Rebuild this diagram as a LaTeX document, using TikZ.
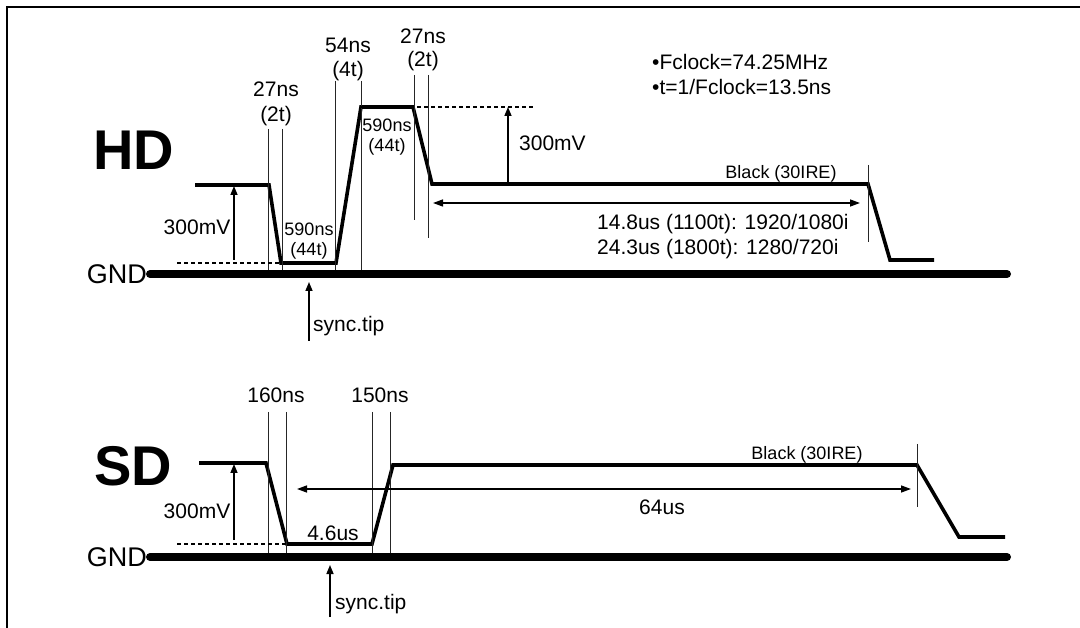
\documentclass[tikz,border=0pt]{standalone}
\usepackage{fontspec}
\setmainfont{Liberation Sans}
\usetikzlibrary{arrows.meta}
\begin{document}
\begin{tikzpicture}[x=1pt,y=-1pt,
  wave/.style={line width=3.6pt, line join=miter},
  gnd/.style={line width=8pt, line cap=round},
  guide/.style={line width=0.9pt, black!85},
  ref/.style={line width=1.3pt, dash pattern=on 4pt off 3pt},
  meas/.style={line width=1.5pt, -{Triangle[length=9pt,width=7pt]}},
  dim/.style={line width=1.3pt, {Triangle[length=10pt,width=7pt]}-{Triangle[length=10pt,width=7pt]}},
  lbl/.style={font=\fontsize{21}{24}\selectfont, inner sep=0pt},
  sml/.style={font=\fontsize{18}{21}\selectfont, inner sep=0pt},
  big/.style={font=\fontsize{56}{56}\selectfont\bfseries, inner sep=0pt},
  gndl/.style={font=\fontsize{27}{30}\selectfont, inner sep=0pt},
]
\useasboundingbox (0,0) rectangle (1080,628);
% frame
\draw[line width=2pt] (7,628) -- (7,7) -- (1082,7);

% ================= HD =================
\node[big] (hd) at (134,150) {HD};
\node[gndl, anchor=east] (gndhd) at (147,274) {GND};
\coordinate (gndhdend) at (1007,274);
\draw[gnd] (gndhd.east) ++(3,0) -- (gndhdend);

% waveform points
\coordinate (h0) at (195,185);
\coordinate (h1) at (269,185);
\coordinate (h2) at (281,263);
\coordinate (h3) at (336,263);
\coordinate (h4) at (361,107);
\coordinate (h5) at (413,107);
\coordinate (h6) at (432,184);
\coordinate (h7) at (868,184);
\coordinate (h8) at (890,260);
\coordinate (h9) at (934,260);
\draw[wave] (h0) -- (h1) -- (h2) -- (h3) -- (h4) -- (h5) -- (h6) -- (h7) -- (h8) -- (h9);

% guides
\coordinate (hg1t) at (268.5,129); \coordinate (hg1b) at (268.5,270);
\coordinate (hg2t) at (282,129);   \coordinate (hg2b) at (282,270);
\coordinate (hg3t) at (335,81);    \coordinate (hg3b) at (335,270);
\coordinate (hg4t) at (361,81);    \coordinate (hg4b) at (361,270);
\coordinate (hg5t) at (414,75);    \coordinate (hg5b) at (414,220);
\coordinate (hg6t) at (428,75);    \coordinate (hg6b) at (428,238);
\coordinate (hg7t) at (868,165);   \coordinate (hg7b) at (868,242);
\foreach \i in {1,...,7} \draw[guide] (hg\i t) -- (hg\i b);

% dashed references
\coordinate (hdl0) at (177,263);
\draw[ref] (hdl0) -- (h2);
\coordinate (hdh1) at (533,107);
\draw[ref] (h4) -- (hdh1);

% 300mV arrows
\coordinate (ha1b) at (234,260); \coordinate (ha1t) at (234,186);
\draw[meas] (ha1b) -- (ha1t);
\coordinate (ha2b) at (508,184); \coordinate (ha2t) at (508,107);
\draw[meas] (ha2b) -- (ha2t);
\node[lbl] (hmv1) at (197,227) {300mV};
\node[lbl, anchor=west] (hmv2) at (519,143) {300mV};

% 14.8us dimension
\coordinate (hdimL) at (433,203); \coordinate (hdimR) at (860,203);
\draw[dim] (hdimL) -- (hdimR);
\node[lbl, anchor=west] (hline1) at (597,224) {14.8us (1100t): 1920/1080i};
\node[lbl, anchor=west] (hline2) at (597,249) {24.3us (1800t): 1280/720i};

% timing labels
\node[lbl] (h27a) at (276,89) {27ns};
\node[lbl] (h2ta) at (276,116) {(2t)};
\node[lbl] (h54) at (348,45) {54ns};
\node[lbl] (h4t) at (348,71) {(4t)};
\node[lbl] (h27b) at (423,36) {27ns};
\node[lbl] (h2tb) at (423,61) {(2t)};
\node[sml] (h590a) at (387,125) {590ns};
\node[sml] (h44a) at (387,147) {(44t)};
\node[sml] (h590b) at (309,229) {590ns};
\node[sml] (h44b) at (309,251) {(44t)};
\node[sml] (hblack) at (781,174) {Black (30IRE)};

% clock notes
\node[lbl, anchor=west] (fclk) at (652,62) {•Fclock=74.25MHz};
\node[lbl, anchor=west] (tclk) at (652,87) {•t=1/Fclock=13.5ns};

% sync tip
\coordinate (hsb) at (309,341); \coordinate (hst) at (309,282);
\draw[meas] (hsb) -- (hst);
\node[lbl, anchor=west] (hsync) at (313,326) {sync.tip};

% ================= SD =================
\node[big] (sd) at (133,466) {SD};
\node[gndl, anchor=east] (gndsd) at (147,557) {GND};
\coordinate (gndsdend) at (1007,557);
\draw[gnd] (gndsd.east) ++(3,0) -- (gndsdend);

\coordinate (s0) at (199,463);
\coordinate (s1) at (266,463);
\coordinate (s2) at (287,544);
\coordinate (s3) at (372,544);
\coordinate (s4) at (393,465);
\coordinate (s5) at (917,465);
\coordinate (s6) at (959,537);
\coordinate (s7) at (1005,537);
\draw[wave] (s0) -- (s1) -- (s2) -- (s3) -- (s4) -- (s5) -- (s6) -- (s7);

\coordinate (sg1t) at (268,412); \coordinate (sg1b) at (268,553);
\coordinate (sg2t) at (286,412); \coordinate (sg2b) at (286,553);
\coordinate (sg3t) at (372,412); \coordinate (sg3b) at (372,553);
\coordinate (sg4t) at (390,412); \coordinate (sg4b) at (390,553);
\coordinate (sg5t) at (917,444); \coordinate (sg5b) at (917,507);
\foreach \i in {1,...,5} \draw[guide] (sg\i t) -- (sg\i b);

\coordinate (sdl0) at (177,544);
\draw[ref] (sdl0) -- (s2);

\coordinate (sa1b) at (234,540); \coordinate (sa1t) at (234,464);
\draw[meas] (sa1b) -- (sa1t);
\node[lbl] (smv) at (197,511) {300mV};

\coordinate (sdimL) at (297,489); \coordinate (sdimR) at (911,489);
\draw[dim] (sdimL) -- (sdimR);
\node[lbl] (s64) at (662,507) {64us};
\node[lbl] (s46) at (333,533) {4.6us};
\node[lbl] (s160) at (276,395) {160ns};
\node[lbl] (s150) at (380,395) {150ns};
\node[sml] (sblack) at (807,455) {Black (30IRE)};

\coordinate (ssb) at (330,617); \coordinate (sst) at (330,565);
\draw[meas] (ssb) -- (sst);
\node[lbl, anchor=west] (ssync) at (335,604) {sync.tip};
\end{tikzpicture}
\end{document}
